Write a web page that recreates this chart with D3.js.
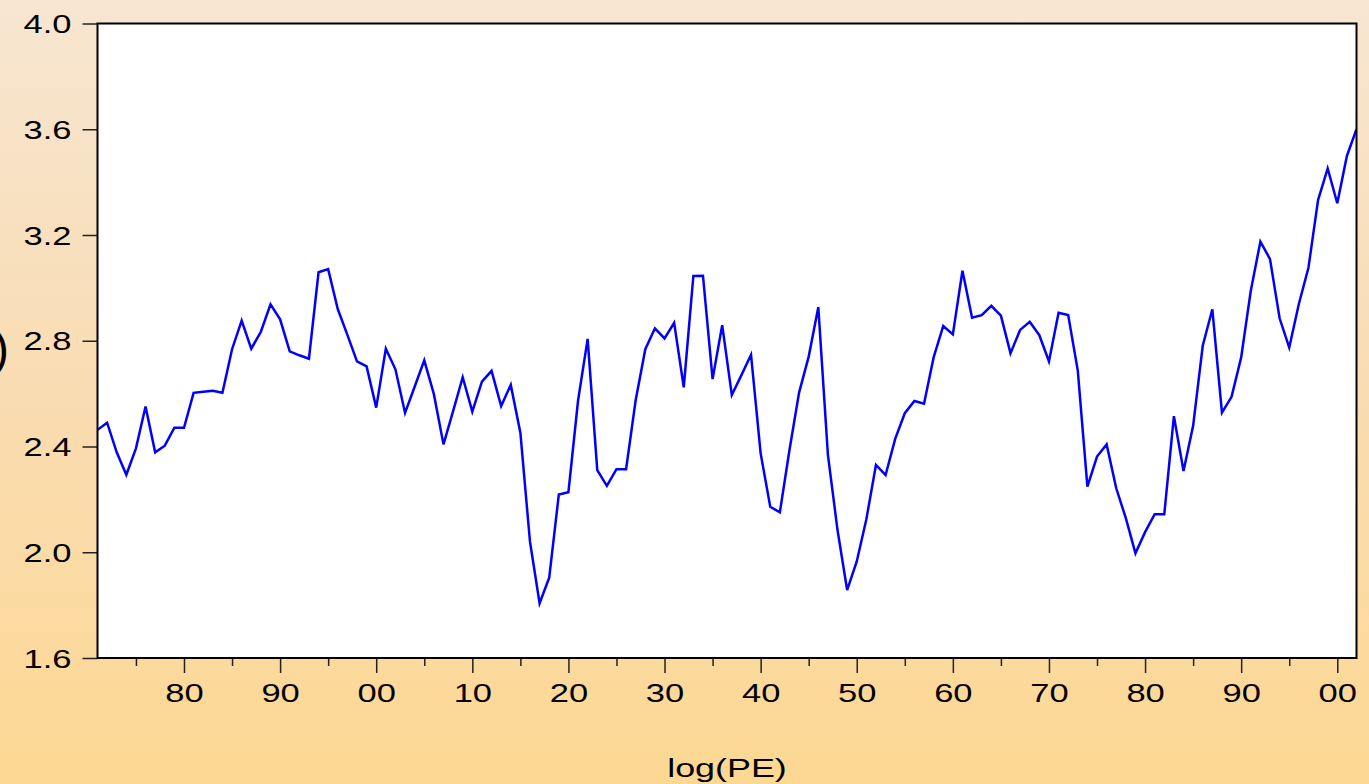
<!DOCTYPE html>
<html>
<head>
<meta charset="utf-8">
<script src="https://cdn.jsdelivr.net/npm/d3@7"></script>
<style>
  html, body { margin: 0; padding: 0; overflow: hidden; }
  svg { display: block; }
</style>
</head>
<body>
<svg id="chart" width="1369" height="784"></svg>
<script>
// ---- data ----
const startYear = 1871;
const endYear = 2002;
const logPE = [
  2.463, 2.490, 2.378, 2.293, 2.393, 2.551, 2.378, 2.403, 2.471, 2.471, // 1871-1880
  2.603, 2.607, 2.611, 2.603, 2.768, 2.876, 2.770, 2.834, 2.938, 2.881, // 1881-1890
  2.760, 2.745, 2.732, 3.059, 3.071, 2.920, 2.822, 2.722, 2.703, 2.547, // 1891-1900
  2.770, 2.692, 2.527, 2.626, 2.726, 2.598, 2.408, 2.534, 2.662, 2.532, // 1901-1910
  2.645, 2.686, 2.553, 2.633, 2.452, 2.040, 1.807, 1.904, 2.218, 2.227, // 1911-1920
  2.573, 2.807, 2.311, 2.251, 2.314, 2.314, 2.576, 2.768, 2.847, 2.809, // 1921-1930
  2.868, 2.624, 3.045, 3.046, 2.655, 2.859, 2.595, 2.670, 2.747, 2.374, // 1931-1940
  2.172, 2.151, 2.387, 2.604, 2.740, 2.927, 2.368, 2.084, 1.857, 1.965, // 1941-1950
  2.125, 2.330, 2.292, 2.429, 2.526, 2.572, 2.562, 2.737, 2.856, 2.824, // 1951-1960
  3.065, 2.887, 2.897, 2.932, 2.895, 2.753, 2.841, 2.872, 2.821, 2.722, // 1961-1970
  2.906, 2.897, 2.687, 2.248, 2.362, 2.408, 2.242, 2.129, 1.996, 2.076, // 1971-1980
  2.144, 2.144, 2.515, 2.307, 2.478, 2.781, 2.919, 2.528, 2.588, 2.737, // 1981-1990
  2.989, 3.175, 3.109, 2.885, 2.774, 2.939, 3.076, 3.332, 3.452, 3.320, // 1991-2000
  3.499, 3.600                                                          // 2001-2002
];
const years = d3.range(startYear, endYear + 1);
const yTicks = [1.6, 2.0, 2.4, 2.8, 3.2, 3.6, 4.0];
const xMajorTicks = d3.range(1880, 2001, 10);
const xMinorTicks = d3.range(1875, 2001, 10);
const xTitle = "log(PE)";

(function () {
// ---- layout ----
const W = 1369, H = 784;
const mLeft = 97.5, mRight = 1356.5, mTop = 23.5, mBottom = 658;
const stretch = 1.38;

const svg = d3.select("#chart");

// background gradient
const defs = svg.append("defs");
const grad = defs.append("linearGradient").attr("id", "bg")
  .attr("x1", 0).attr("y1", 0).attr("x2", 0).attr("y2", 1);
grad.append("stop").attr("offset", "0%").attr("stop-color", "#F7E6D1");
grad.append("stop").attr("offset", "50%").attr("stop-color", "#F9DCB2");
grad.append("stop").attr("offset", "100%").attr("stop-color", "#FDD893");
svg.append("rect").attr("width", W).attr("height", H).attr("fill", "url(#bg)");

// plot area
svg.append("rect")
  .attr("x", mLeft).attr("y", mTop)
  .attr("width", mRight - mLeft).attr("height", mBottom - mTop)
  .attr("fill", "#ffffff");

const x = d3.scaleLinear().domain([startYear, endYear]).range([mLeft, mRight]);
const y = d3.scaleLinear().domain([1.6, 4.0]).range([mBottom, mTop]);

// clip
defs.append("clipPath").attr("id", "clip")
  .append("rect").attr("x", mLeft).attr("y", mTop)
  .attr("width", mRight - mLeft).attr("height", mBottom - mTop);

// line
const line = d3.line()
  .x((d, i) => x(years[i]))
  .y(d => y(d));
svg.append("path")
  .datum(logPE)
  .attr("clip-path", "url(#clip)")
  .attr("d", line)
  .attr("fill", "none")
  .attr("stroke", "#0000FF")
  .attr("stroke-width", 2.5)
  .attr("stroke-linejoin", "miter");

const fontFam = "'Liberation Sans', Arial, Helvetica, sans-serif";

// y axis
const yAxis = svg.append("g")
  .attr("transform", `translate(${mLeft},0)`)
  .call(d3.axisLeft(y).tickValues(yTicks).tickFormat(d3.format(".1f")).tickSize(15).tickPadding(0));
yAxis.select(".domain").remove();
yAxis.selectAll(".tick line").attr("stroke", "#222").attr("stroke-width", 1.5);
yAxis.selectAll(".tick text")
  .attr("x", -26 / stretch)
  .attr("dy", "0.36em")
  .attr("transform", `scale(${stretch},1)`)
  .attr("fill", "#000")
  .style("font-family", fontFam)
  .style("font-size", "25px");

// x axis major
const xAxis = svg.append("g")
  .attr("transform", `translate(0,${mBottom})`)
  .call(d3.axisBottom(x).tickValues(xMajorTicks)
    .tickFormat(d => d3.format("02d")(d % 100)).tickSize(15));
xAxis.select(".domain").remove();
xAxis.selectAll(".tick line").attr("stroke", "#222").attr("stroke-width", 1.5);
xAxis.selectAll(".tick text")
  .attr("y", 44).attr("dy", 0)
  .attr("transform", `scale(${stretch},1)`)
  .attr("fill", "#000")
  .style("font-family", fontFam)
  .style("font-size", "25px");

// x axis minor
const xMinor = svg.append("g")
  .attr("transform", `translate(0,${mBottom})`)
  .call(d3.axisBottom(x).tickValues(xMinorTicks).tickFormat("").tickSize(8));
xMinor.select(".domain").remove();
xMinor.selectAll(".tick line").attr("stroke", "#222").attr("stroke-width", 1.5);

// frame
svg.append("rect")
  .attr("x", mLeft).attr("y", mTop)
  .attr("width", mRight - mLeft).attr("height", mBottom - mTop)
  .attr("fill", "none")
  .attr("stroke", "#000")
  .attr("stroke-width", 2);

// x title
svg.append("text")
  .attr("transform", `translate(${(mLeft + mRight) / 2},777) scale(${stretch},1)`)
  .attr("text-anchor", "middle")
  .attr("fill", "#000")
  .style("font-family", fontFam)
  .style("font-size", "26px")
  .text(xTitle);

// partial left glyph (cut off at the edge, as in the reference)
svg.append("text")
  .attr("transform", `translate(9,365)`)
  .attr("text-anchor", "end")
  .attr("fill", "#000")
  .style("font-family", fontFam)
  .style("font-size", "48px")
  .text(")");
})();
</script>
</body>
</html>
